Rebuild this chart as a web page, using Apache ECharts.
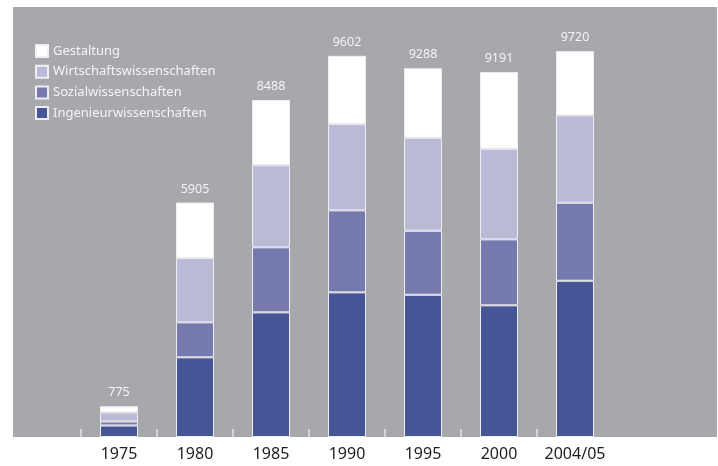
<!DOCTYPE html>
<html>
<head>
<meta charset="utf-8">
<script src="https://cdn.jsdelivr.net/npm/echarts@6/dist/echarts.min.js"></script>
<style>html,body{margin:0;padding:0;background:#fff;}#c{width:718px;height:466px;}</style>
</head>
<body>
<div id="c"></div>
<script>
const years = ['1975', '1980', '1985', '1990', '1995', '2000', '2004/05'];
const totals = [775, 5905, 8488, 9602, 9288, 9191, 9720];
const ingenieur = [290, 2007, 3140, 3643, 3583, 3316, 3936];
const sozial = [100, 881, 1637, 2065, 1612, 1662, 1964];
const wirtschaft = [230, 1619, 2065, 2173, 2342, 2281, 2201];
const gestaltung = [155, 1398, 1646, 1721, 1751, 1932, 1619];

const padL = 2, padR = 2;
const pad = arr => [...Array(padL).fill('-'), ...arr, ...Array(padR).fill('-')];
const cats = [...Array(padL).fill(''), ...years, ...Array(padR).fill('')];

const colors = { ing: '#465595', soz: '#7679ae', wir: '#babad6', ges: '#ffffff' };
const border = { borderColor: '#eeeef3', borderWidth: 1 };

const chart = echarts.init(document.getElementById('c'), null, { renderer: 'canvas' });
const font = '"Noto Sans", "Open Sans", sans-serif';
chart.setOption({
  animation: false,
  textStyle: { fontFamily: font },
  graphic: [{ type: 'rect', z: -10, shape: { x: 13, y: 7, width: 704, height: 430 }, style: { fill: '#a7a8ac' }, silent: true }],
  grid: { left: -71, right: -47, top: 40, bottom: 29, outerBoundsMode: 'none', containLabel: false },
  legend: {
    orient: 'vertical', left: 30, top: 39, itemWidth: 12, itemHeight: 12, itemGap: 6.7,
    icon: 'rect',
    data: ['Gestaltung', 'Wirtschaftswissenschaften', 'Sozialwissenschaften', 'Ingenieurwissenschaften'],
    textStyle: { color: '#f4f4f6', fontSize: 13, fontFamily: font, padding: [0, 0, 0, 0] }
  },
  xAxis: {
    type: 'category', data: cats,
    axisLine: { show: false },
    axisTick: {
      show: true, length: 8, inside: true,
      interval: (i) => i >= padL && i < padL + years.length,
      lineStyle: { color: '#e4e4e8', width: 1.5 }
    },
    axisLabel: { color: '#1e1e1e', fontSize: 16, margin: 9, fontFamily: font, interval: 0 }
  },
  yAxis: { type: 'value', min: 0, max: 10000, show: false, splitLine: { show: false } },
  series: [
    { name: 'Ingenieurwissenschaften', type: 'bar', stack: 't', barWidth: 38, data: pad(ingenieur), itemStyle: Object.assign({ color: colors.ing }, border) },
    { name: 'Sozialwissenschaften', type: 'bar', stack: 't', barWidth: 38, data: pad(sozial), itemStyle: Object.assign({ color: colors.soz }, border) },
    { name: 'Wirtschaftswissenschaften', type: 'bar', stack: 't', barWidth: 38, data: pad(wirtschaft), itemStyle: Object.assign({ color: colors.wir }, border) },
    { name: 'Gestaltung', type: 'bar', stack: 't', barWidth: 38, data: pad(gestaltung), itemStyle: Object.assign({ color: colors.ges }, border),
      label: { show: true, position: 'top', distance: 7, color: '#f4f4f6', fontSize: 12.5, fontFamily: font,
        formatter: p => String(totals[p.dataIndex - padL]) } }
  ]
});
</script>
</body>
</html>
